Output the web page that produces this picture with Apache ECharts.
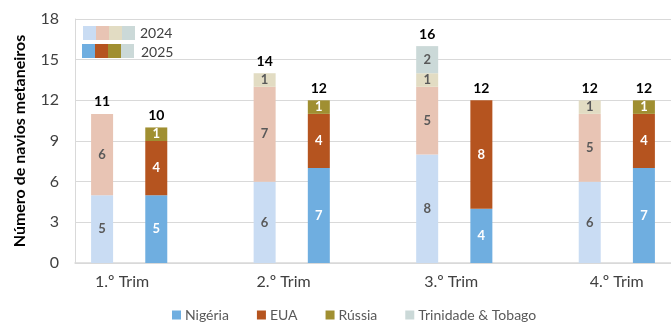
<!DOCTYPE html>
<html>
<head>
<meta charset="utf-8">
<script src="https://cdn.jsdelivr.net/npm/echarts@6/dist/echarts.min.js"></script>
<style>
  html, body { margin: 0; padding: 0; background: #ffffff; }
  #chart { width: 671px; height: 324px; }
</style>
</head>
<body>
<div id="chart"></div>
<script>
// LNG carriers per quarter, by origin, 2024 vs 2025
const quarters = ['1.º Trim', '2.º Trim', '3.º Trim', '4.º Trim'];
const years = ['2024', '2025'];
const countries = ['Nigéria', 'EUA', 'Rússia', 'Trinidade & Tobago'];

const nigeria2024 = [5, 6, 8, 6];
const nigeria2025 = [5, 7, 4, 7];
const eua2024 = [6, 7, 5, 5];
const eua2025 = [4, 4, 8, 4];
const russia2024 = [null, 1, 1, 1];
const russia2025 = [1, 1, null, 1];
const trinidad2024 = [null, null, 2, null];
const trinidad2025 = [null, null, null, null];
const totals2024 = [11, 14, 16, 12];
const totals2025 = [10, 12, 12, 12];

const yTicks = [0, 3, 6, 9, 12, 15, 18];

// palette: pale shade for 2024, full shade for 2025
const colors2024 = ['#C9DCF3', '#E8C4B4', '#E2DCC3', '#CBD9D8'];
const colors2025 = ['#6FAEE0', '#B5541F', '#A08F31', '#CBD9D8'];

const byCountry = [
  [nigeria2024, nigeria2025],
  [eua2024, eua2025],
  [russia2024, russia2025],
  [trinidad2024, trinidad2025]
];

// slot layout: 2024 bar, 2025 bar, empty gap, repeated per quarter
const slots = [];
quarters.forEach((q, qi) => {
  slots.push({ q: qi, y: 0 });
  slots.push({ q: qi, y: 1 });
  if (qi < quarters.length - 1) slots.push(null);
});
const slotNames = slots.map((s, i) => s ? quarters[s.q] + ' ' + years[s.y] : 'gap' + i);

// small per-quarter nudges of the category text
const labelShift = [20, 19, 24, 27];
const rich = {};
quarters.forEach((q, i) => {
  rich['q' + i] = { fontFamily: 'Lato', fontSize: 16, color: '#404040', padding: [0, 0, 0, labelShift[i] * 2] };
});

const countrySeries = countries.map((name, ci) => ({
  name: name,
  type: 'bar',
  stack: 'ships',
  barWidth: 22,
  barGap: '-100%',
  color: colors2025[ci],
  data: slots.map(s => {
    if (!s) return '-';
    const v = byCountry[ci][s.y][s.q];
    return {
      value: v == null ? '-' : v,
      itemStyle: { color: s.y === 0 ? colors2024[ci] : colors2025[ci] },
      label: { color: s.y === 0 ? '#595959' : '#ffffff' }
    };
  }),
  label: {
    show: true,
    position: 'inside',
    fontFamily: 'Lato',
    fontWeight: 'bold',
    fontSize: 13,
    formatter: p => (p.value == null || p.value === '-' ? '' : p.value)
  },
  emphasis: { disabled: true }
}));

const totalSeries = {
  name: 'Total',
  type: 'bar',
  stack: 'total',
  barWidth: 22,
  barGap: '-100%',
  z: 1,
  itemStyle: { color: 'rgba(0,0,0,0)' },
  data: slots.map(s => s ? (s.y === 0 ? totals2024[s.q] : totals2025[s.q]) : '-'),
  label: {
    show: true,
    position: 'top',
    distance: 5,
    fontFamily: 'Lato',
    fontWeight: 'bold',
    fontSize: 14,
    color: '#000000'
  },
  emphasis: { disabled: true }
};

// year key drawn in the upper left corner of the plot
const keyGraphics = [];
[colors2024, colors2025].forEach((cols, r) => {
  cols.forEach((c, i) => {
    keyGraphics.push({
      type: 'rect',
      shape: { x: 83 - r + i * 13, y: 26 + r * 18, width: 13, height: 14 },
      style: { fill: c }
    });
  });
  keyGraphics.push({
    type: 'text',
    x: 140 + r,
    y: 33 + r * 19,
    style: {
      text: years[r],
      fontFamily: 'Lato',
      fontSize: 14,
      fill: '#404040',
      verticalAlign: 'middle'
    }
  });
});

const chart = echarts.init(document.getElementById('chart'), null, { renderer: 'canvas' });
chart.setOption({
  animation: false,
  backgroundColor: '#ffffff',
  grid: { left: 75, top: 19, bottom: 61, width: 600 },
  legend: {
    data: countries,
    left: 167,
    top: 303,
    itemWidth: 9,
    itemHeight: 9,
    itemGap: 28,
    icon: 'rect',
    textStyle: { fontFamily: 'Lato', fontSize: 14, color: '#595959', padding: [0, 0, 0, -1] },
    selectedMode: false
  },
  xAxis: {
    type: 'category',
    data: slotNames,
    axisTick: { show: false },
    axisLine: { lineStyle: { color: '#D9D9D9', width: 1.5 } },
    axisLabel: {
      interval: 0,
      margin: 11,
      rich: rich,
      formatter: (v, i) => {
        const s = slots[i];
        return s && s.y === 0 ? '{q' + s.q + '|' + quarters[s.q] + '}' : '';
      }
    }
  },
  yAxis: {
    type: 'value',
    min: yTicks[0],
    max: yTicks[yTicks.length - 1],
    interval: yTicks[1] - yTicks[0],
    name: 'Número de navios metaneiros',
    nameLocation: 'middle',
    nameGap: 47,
    nameTextStyle: { fontFamily: 'Lato', fontWeight: 'bold', fontSize: 16, color: '#000000' },
    axisLine: { show: true, lineStyle: { color: '#D9D9D9' } },
    axisTick: { show: false },
    axisLabel: { margin: 16, fontFamily: 'Lato', fontSize: 16, color: '#404040' },
    splitLine: { lineStyle: { color: '#D9D9D9' } }
  },
  graphic: keyGraphics,
  series: countrySeries.concat([totalSeries])
});
</script>
</body>
</html>
